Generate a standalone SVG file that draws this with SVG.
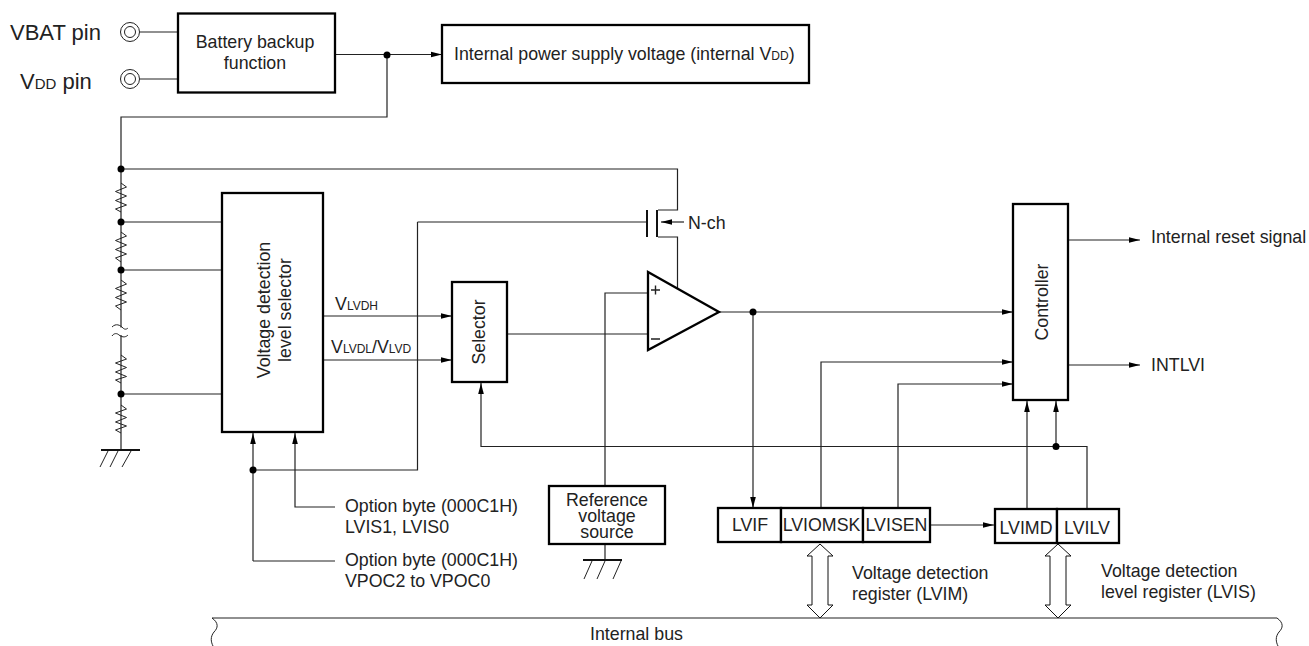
<svg xmlns="http://www.w3.org/2000/svg" width="1309" height="646" viewBox="0 0 1309 646">
<style>
text{font-family:"Liberation Sans",Arial,sans-serif;font-size:17.8px;fill:#222}
.m{text-anchor:middle}
.sub{font-size:12px}
.box{fill:#fff;stroke:#000;stroke-width:2.300}
.w{fill:none;stroke:#222;stroke-width:1.200}
.a{marker-end:url(#ah)}
.g{fill:none;stroke:#222;stroke-width:1}
.dot{fill:#000}
.dbl{fill:#fff;stroke:#111;stroke-width:1}
</style>
<defs>
<marker id="ah" markerUnits="userSpaceOnUse" markerWidth="12" markerHeight="8" refX="11" refY="4" orient="auto"><path d="M0,1.200L11,4L0,6.800Z" fill="#000"/></marker>
</defs>
<rect width="1309" height="646" fill="#fff"/>
<g id="connectors">
<path class="w" d="M140,32H178M140,79H178"/>
<path class="w a" d="M336,54.500H442"/>
<path class="w" d="M387,55V117H121V432"/>
<path class="w" d="M121,169H677.500V210H658M658,237H677.500V288"/>
<path class="w" d="M121,222H222M121,270H222M121,394H222"/>
<path class="w" d="M417.500,222H647M417.500,222V470H253"/>
<path class="w a" d="M684,222H661"/>
<path class="w a" d="M323,316H452"/>
<path class="w a" d="M323,360H452"/>
<path class="w" d="M507,334H648"/>
<path class="w" d="M648,293H605V486"/>
<path class="w" d="M605,544V560"/>
<path class="w a" d="M719,312H1013"/>
<path class="w a" d="M753,312V508"/>
<path class="w a" d="M821,508V362H1013"/>
<path class="w a" d="M898,508V384H1013"/>
<path class="w a" d="M931,525H994"/>
<path class="w a" d="M1027,509V401"/>
<path class="w a" d="M1056,446.500V401"/>
<path class="w a" d="M1087,509V446.500H481V383"/>
<path class="w a" d="M1069,240H1140"/>
<path class="w a" d="M1069,365H1140"/>
<path class="w a" d="M253,561V433"/>
<path class="w a" d="M335,507H295V433"/>
<path class="w" d="M335,561H253"/>
<path class="dbl" d="M820,544L833,556H828V605H833L820,618L807,605H812V556H807Z"/>
<path class="dbl" d="M1058,544L1071,556H1066V605H1071L1058,618L1045,605H1050V556H1045Z"/>
<circle class="dot" cx="387" cy="55" r="3.500"/>
<circle class="dot" cx="121" cy="169" r="3.500"/>
<circle class="dot" cx="121" cy="222" r="3.500"/>
<circle class="dot" cx="121" cy="270" r="3.500"/>
<circle class="dot" cx="121" cy="394" r="3.500"/>
<circle class="dot" cx="253" cy="470" r="3.500"/>
<circle class="dot" cx="753" cy="312" r="3.500"/>
<circle class="dot" cx="1056" cy="446.500" r="3.500"/>
</g>
<g id="pin-vbat"><text x="10" y="40" style="font-size:22px">VBAT pin</text><circle cx="130" cy="32" r="9.500" class="g"/><circle cx="130" cy="32" r="5.500" class="g"/></g>
<g id="pin-vdd"><text x="20" y="89" style="font-size:22px">V<tspan style="font-size:15px">DD</tspan> pin</text><circle cx="130" cy="79" r="9.500" class="g"/><circle cx="130" cy="79" r="5.500" class="g"/></g>
<g id="battery-backup"><rect class="box" x="178" y="13.500" width="157" height="79"/><text class="m" x="255" y="48">Battery backup</text><text class="m" x="255" y="69">function</text></g>
<g id="internal-power"><rect class="box" x="442" y="25" width="367" height="58"/><text x="454" y="60">Internal power supply voltage (internal V<tspan class="sub">DD</tspan>)</text></g>
<g id="resistor-ladder">
<path class="g" d="M121,183L126.500,187L115.500,191.500L126.500,196L115.500,200.500L126.500,205L115.500,209L121,212"/>
<path class="g" d="M121,232L126.500,236L115.500,240.500L126.500,245L115.500,249.500L126.500,254L115.500,258L121,262"/>
<path class="g" d="M121,280L126.500,284L115.500,288.500L126.500,293L115.500,297.500L126.500,302L115.500,306L121,310"/>
<path class="g" d="M121,355L126.500,359L115.500,363L126.500,367.500L115.500,372L126.500,376.500L115.500,380L121,383"/>
<path class="g" d="M121,405L126.500,409L115.500,413L126.500,417.500L115.500,422L126.500,426L115.500,430L121,433"/>
<path fill="none" stroke="#fff" stroke-width="9" d="M121,327.500V335"/>
<path class="g" d="M112,327C116,323 120,325 123,328C125,330 127,329 128,328M112,336C114,333 117,333 119,335C123,338 126,337 128,335"/>
<path class="w" d="M121,432V450"/>
<path d="M101,450H140" stroke="#111" stroke-width="2"/>
<path class="g" d="M108,451L100,467M118,451L110,467M131,451L122,467"/>
</g>
<g id="level-selector"><rect class="box" x="222" y="193" width="101" height="239"/><text class="m" transform="translate(270,310) rotate(-90)">Voltage detection</text><text class="m" transform="translate(291,310) rotate(-90)">level selector</text></g>
<g id="selector"><rect class="box" x="452" y="282" width="55" height="100"/><text class="m" transform="translate(485,332) rotate(-90)">Selector</text></g>
<g id="vlvd-labels"><text x="335" y="310">V<tspan class="sub">LVDH</tspan></text><text x="331" y="353">V<tspan class="sub">LVDL</tspan>/V<tspan class="sub">LVD</tspan></text></g>
<g id="transistor"><path d="M647,210V237M657,210V237" stroke="#111" stroke-width="2" fill="none"/><text x="688" y="229">N-ch</text></g>
<g id="comparator"><path d="M648,272V350L719,312Z" fill="#fff" stroke="#000" stroke-width="2.300"/><path d="M651,290H660M655.500,285.500V294.500M651,339H660" stroke="#222" stroke-width="1.400" fill="none"/></g>
<g id="reference"><rect class="box" x="549" y="486" width="116" height="58"/><text class="m"><tspan x="607" y="506">Reference</tspan><tspan x="607" y="522">voltage</tspan><tspan x="607" y="538">source</tspan></text><path d="M583,560H622" stroke="#111" stroke-width="2"/><path class="g" d="M592,561L584,579M605,561L597,579M621,561L613,579"/></g>
<g id="controller"><rect class="box" x="1013" y="204" width="55" height="196"/><text class="m" transform="translate(1048,302) rotate(-90)">Controller</text></g>
<g id="lvif"><rect class="box" x="718" y="508" width="63" height="34"/><text class="m" x="750" y="531">LVIF</text></g>
<g id="lviomsk"><rect class="box" x="781" y="508" width="82" height="34"/><text class="m" x="821.500" y="531">LVIOMSK</text></g>
<g id="lvisen"><rect class="box" x="863" y="508" width="67" height="34"/><text class="m" x="896.500" y="531">LVISEN</text></g>
<g id="lvimd"><rect class="box" x="995" y="509" width="62" height="34"/><text class="m" x="1026" y="534">LVIMD</text></g>
<g id="lvilv"><rect class="box" x="1057" y="509" width="62" height="34"/><text class="m" x="1087" y="534">LVILV</text></g>
<g id="labels">
<text x="1151" y="243">Internal reset signal</text>
<text x="1151" y="371">INTLVI</text>
<text x="345" y="512">Option byte (000C1H)</text>
<text x="345" y="533">LVIS1, LVIS0</text>
<text x="345" y="566">Option byte (000C1H)</text>
<text x="345" y="587">VPOC2 to VPOC0</text>
<text x="852" y="579">Voltage detection</text>
<text x="852" y="600">register (LVIM)</text>
<text x="1101" y="577">Voltage detection</text>
<text x="1101" y="598">level register (LVIS)</text>
</g>
<g id="internal-bus"><path class="w" d="M212,618H1277"/><path class="g" d="M212,618C219,623 218,628 214,632C210,637 211,642 213,646M1277,618C1284,623 1283,628 1279,632C1275,637 1276,642 1278,646"/><text x="590" y="640">Internal bus</text></g>
</svg>
